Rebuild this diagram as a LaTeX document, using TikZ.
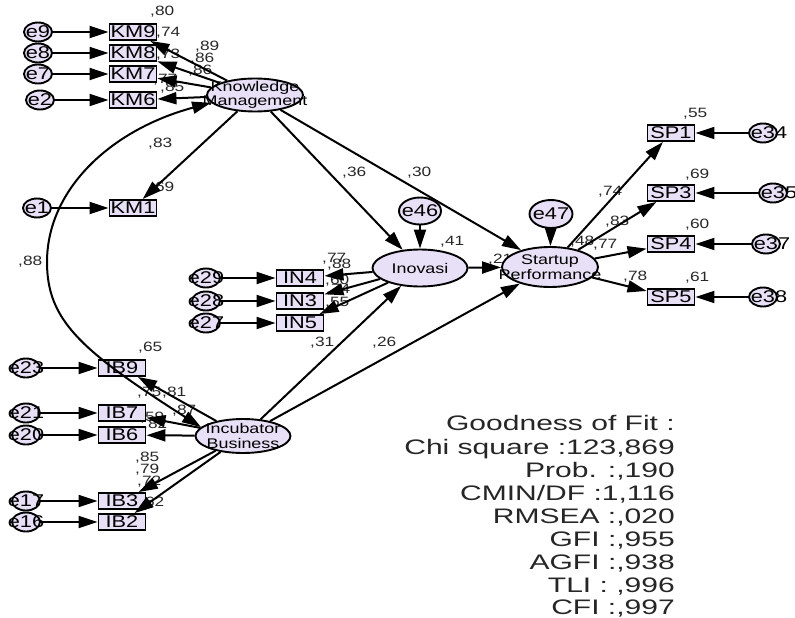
\documentclass[tikz,border=0pt]{standalone}
\usepackage{fontspec}
\setmainfont[FakeStretch=1.28]{Liberation Sans}
\newfontfamily\goffont[FakeStretch=1.43]{Liberation Sans}
\usetikzlibrary{arrows.meta,shapes.geometric}
\definecolor{nfill}{RGB}{232,224,246}
\definecolor{ltxt}{RGB}{40,40,40}
\begin{document}
\begin{tikzpicture}[x=1pt,y=-1pt,
  box/.style={draw, line width=1.9pt, fill=nfill, minimum width=47pt, minimum height=16pt, inner sep=0pt, font=\fontsize{17}{17}\selectfont},
  err/.style={draw, ellipse, line width=1.9pt, fill=nfill, minimum width=28pt, minimum height=19pt, inner sep=0pt},
  lat/.style={draw, ellipse, line width=1.9pt, fill=nfill, inner sep=0pt},
  etxt/.style={font=\fontsize{17}{17}\selectfont, inner sep=0pt},
  ltx/.style={font=\fontsize{14}{14.5}\selectfont, align=center, inner sep=0pt},
  cf/.style={font=\fontsize{13.5}{13.5}\selectfont, text=ltxt, anchor=west, inner sep=0pt},
  arr/.style={line width=2pt, -{Triangle[length=19pt,width=12pt]}},
  darr/.style={line width=2pt, {Triangle[length=19pt,width=12pt]}-{Triangle[length=19pt,width=12pt]}},
  gof/.style={font=\goffont\fontsize{21}{21}\selectfont, anchor=base east, inner sep=0pt, text=black!85}
]
\useasboundingbox (0,0) rectangle (795,618);

% ---------- coefficient labels ----------
\node[cf] (c1) at (150,12) {,80};
\node[cf] (c2) at (156,33) {,74};
\node[cf] (c3) at (195,47) {,89};
\node[cf] (c4) at (156,55) {,73};
\node[cf] (c5) at (190,59) {,86};
\node[cf] (c6) at (188,71) {,86};
\node[cf] (c7) at (153,80) {,77};
\node[cf] (c8) at (160,88) {,85};
\node[cf] (c9) at (148,144) {,83};
\node[cf] (c10) at (150,188) {,69};
\node[cf] (c11) at (18,262) {,88};
\node[cf] (c12) at (322,259) {,77};
\node[cf] (c13) at (327,265) {,88};
\node[cf] (c14) at (325,281) {,60};
\node[cf] (c15) at (326,290) {,74};
\node[cf] (c16) at (325,303) {,55};
\node[cf] (c17) at (342,173) {,36};
\node[cf] (c18) at (407,173) {,30};
\node[cf] (c19) at (440,242) {,41};
\node[cf] (c20) at (488,260) {,21};
\node[cf] (c21) at (310,343) {,31};
\node[cf] (c22) at (372,343) {,26};
\node[cf] (c23) at (598,192) {,74};
\node[cf] (c24) at (605,222) {,83};
\node[cf] (c25) at (570,242) {,48};
\node[cf] (c26) at (593,245) {,77};
\node[cf] (c27) at (623,277) {,78};
\node[cf] (c28) at (683,114) {,55};
\node[cf] (c29) at (685,175) {,69};
\node[cf] (c30) at (685,225) {,60};
\node[cf] (c31) at (685,278) {,61};
\node[cf] (c32) at (138,348) {,65};
\node[cf] (c33) at (137,393) {,75};
\node[cf] (c34) at (162,393) {,81};
\node[cf] (c35) at (172,411) {,87};
\node[cf] (c36) at (140,418) {,59};
\node[cf] (c37) at (143,425) {,82};
\node[cf] (c38) at (135,458) {,85};
\node[cf] (c39) at (135,470) {,79};
\node[cf] (c40) at (137,482) {,72};
\node[cf] (c41) at (140,503) {,62};

% ---------- latent variables ----------
\node[lat, minimum width=96pt, minimum height=33pt, label={[ltx]center:Knowledge\\Management}] (km) at (255,95) {};
\node[lat, minimum width=95pt, minimum height=37pt, label={[ltx]center:Inovasi}] (inov) at (420,268) {};
\node[lat, minimum width=96pt, minimum height=40pt, label={[ltx]center:Startup\\Performance}] (sp) at (550,267) {};
\node[lat, minimum width=95pt, minimum height=34pt, label={[ltx]center:Incubator\\Business}] (ib) at (243,436) {};
\node[err, minimum width=42pt, minimum height=27pt, label={[etxt]center:e46}] (e46) at (420,211) {};
\node[err, minimum width=43pt, minimum height=28pt, label={[etxt]center:e47}] (e47) at (551,214) {};

% ---------- KM indicators ----------
\node[box] (km9) at (133,32) {KM9};
\node[box] (km8) at (133,53) {KM8};
\node[box] (km7) at (133,74) {KM7};
\node[box] (km6) at (133,100) {KM6};
\node[box] (km1) at (133,208) {KM1};
\node[err, label={[etxt]center:e9}] (e9) at (38,32) {};
\node[err, label={[etxt]center:e8}] (e8) at (38,53) {};
\node[err, label={[etxt]center:e7}] (e7) at (38,74) {};
\node[err, label={[etxt]center:e2}] (e2) at (40,100) {};
\node[err, label={[etxt]center:e1}] (e1) at (37,208) {};

% ---------- IN indicators ----------
\node[box] (in4) at (300,278) {IN4};
\node[box] (in3) at (300,301) {IN3};
\node[box] (in5) at (300,323) {IN5};
\node[err, label={[etxt]center:e29}] (e29) at (206,278) {};
\node[err, label={[etxt]center:e28}] (e28) at (206,301) {};
\node[err, label={[etxt]center:e27}] (e27) at (206,323) {};

% ---------- IB indicators ----------
\node[box] (ib9) at (122,368) {IB9};
\node[box] (ib7) at (122,413) {IB7};
\node[box] (ib6) at (122,435) {IB6};
\node[box] (ib3) at (122,501) {IB3};
\node[box] (ib2) at (122,522) {IB2};
\node[err, label={[etxt]center:e23}] (e23) at (26,368) {};
\node[err, label={[etxt]center:e21}] (e21) at (26,413) {};
\node[err, label={[etxt]center:e20}] (e20) at (26,435) {};
\node[err, label={[etxt]center:e17}] (e17) at (26,501) {};
\node[err, label={[etxt]center:e16}] (e16) at (26,522) {};

% ---------- SP indicators ----------
\node[box] (sp1) at (671,133) {SP1};
\node[box] (sp3) at (671,193) {SP3};
\node[box] (sp4) at (671,244) {SP4};
\node[box] (sp5) at (671,297) {SP5};
\node[err, label={[etxt,xshift=6pt]center:e34}] (e34) at (763,133) {};
\node[err, label={[etxt,xshift=6pt]center:e35}] (e35) at (773,193) {};
\node[err, label={[etxt,xshift=6pt]center:e37}] (e37) at (766,244) {};
\node[err, label={[etxt,xshift=6pt]center:e38}] (e38) at (763,297) {};

% ---------- arrows ----------
\foreach \a/\b in {e9/km9, e8/km8, e7/km7, e2/km6, e1/km1,
                   km/km9, km/km8, km/km7, km/km6, km/km1,
                   e29/in4, e28/in3, e27/in5, inov/in4, inov/in3, inov/in5,
                   e23/ib9, e21/ib7, e20/ib6, e17/ib3, e16/ib2,
                   ib/ib9, ib/ib7, ib/ib6, ib/ib3, ib/ib2,
                   km/inov, km/sp, ib/inov, ib/sp, inov/sp, e46/inov, e47/sp,
                   sp/sp1, sp/sp3, sp/sp4, sp/sp5,
                   e34/sp1, e35/sp3, e37/sp4, e38/sp5}
  \draw[arr] (\a) -- (\b);

\coordinate (arcmid) at (47,262);
\draw[darr] (km.190) .. controls (110,130) and (47,190) .. (arcmid)
            .. controls (47,320) and (80,350) .. (ib.168);

% ---------- goodness of fit ----------
\node[gof] (g1) at (675,430) {Goodness of Fit :};
\node[gof] (g2) at (675,454) {Chi square :123,869};
\node[gof] (g3) at (675,477) {Prob. :,190};
\node[gof] (g4) at (675,500) {CMIN/DF :1,116};
\node[gof] (g5) at (675,523) {RMSEA :,020};
\node[gof] (g6) at (675,546) {GFI :,955};
\node[gof] (g7) at (675,569) {AGFI :,938};
\node[gof] (g8) at (675,592) {TLI : ,996};
\node[gof] (g9) at (675,614) {CFI :,997};
\end{tikzpicture}
\end{document}
